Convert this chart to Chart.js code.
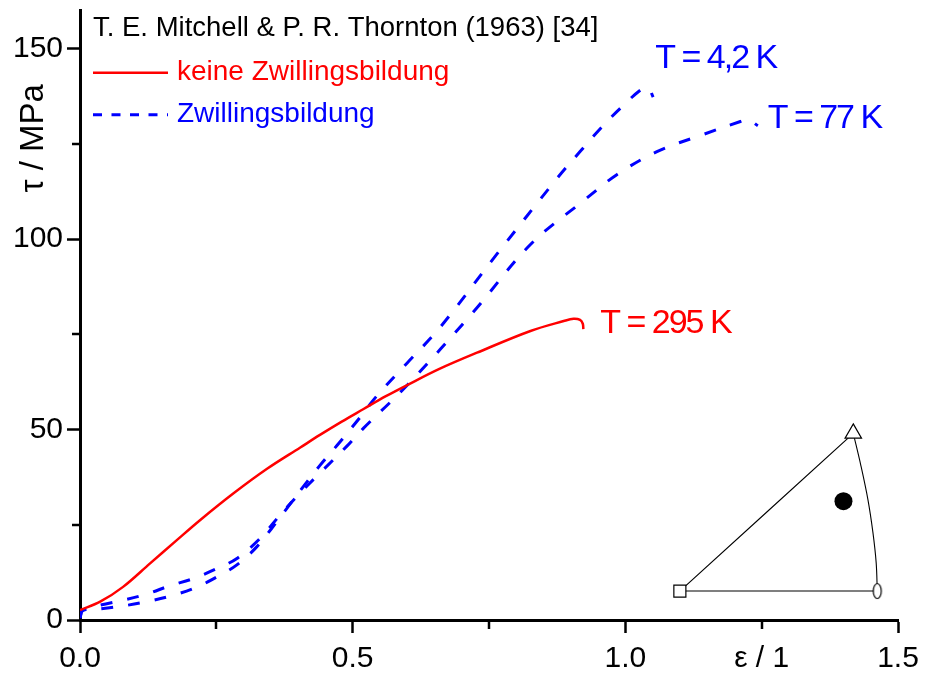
<!DOCTYPE html>
<html><head><meta charset="utf-8">
<script src="https://cdn.jsdelivr.net/npm/chart.js@4"></script>
<style>html,body{margin:0;padding:0;background:#fff}</style>
</head><body>
<canvas id="c" width="928" height="677"></canvas>
<script>
// ---------------- data ----------------
const strain295 = [0, 0.037, 0.079, 0.128, 0.177, 0.22, 0.281, 0.343, 0.404, 0.44, 0.48, 0.52, 0.56, 0.6, 0.66, 0.728, 0.826, 0.887, 0.905, 0.917, 0.922, 0.923];
const tau295    = [2.6, 4.8, 8.7, 14.8, 20.9, 26.2, 33.2, 39.7, 45.3, 48.6, 52.1, 55.4, 58.7, 61.7, 66.0, 70.2, 75.9, 78.5, 79.1, 78.8, 77.8, 76.4];

const strain42 = [0, 0.005, 0.037, 0.079, 0.122, 0.171, 0.214, 0.257, 0.287, 0.324, 0.367, 0.404, 0.44, 0.477, 0.514, 0.544, 0.60, 0.66, 0.764, 0.875, 0.917, 0.954, 0.991, 1.03, 1.042, 1.051];
const tau42    = [0.5, 2.5, 2.9, 3.7, 4.8, 6.5, 8.6, 11.8, 14.4, 19.2, 27.0, 34.0, 40.6, 46.8, 53.3, 58.8, 67.5, 76.8, 96.0, 116.0, 123.0, 129.0, 134.4, 139.4, 139.8, 137.3];

const strain77 = [0, 0.005, 0.037, 0.079, 0.122, 0.165, 0.208, 0.251, 0.287, 0.33, 0.367, 0.40, 0.44, 0.489, 0.52, 0.599, 0.722, 0.826, 0.926, 0.985, 1.058, 1.143, 1.211, 1.225, 1.243];
const tau77    = [0.5, 2.5, 3.9, 5.2, 6.8, 9.0, 10.9, 13.5, 16.1, 21.4, 27.6, 32.8, 38.6, 45.6, 50.4, 61.5, 81.0, 98.6, 110.4, 117.0, 123.0, 127.5, 130.9, 131.4, 129.8];

// stereographic triangle inset (in data units)
const insetSquare   = [1.100, 7.6];
const insetTriangle = [1.418, 49.0];
const insetEllipse  = [1.462, 7.6];
const insetDot      = [1.400, 31.2];
const insetArcStrain = [1.418, 1.432, 1.445, 1.454, 1.460, 1.462];
const insetArcTau    = [49.0, 40.5, 31.5, 23.0, 15.0, 7.6];

const xTickValues = [0, 0.25, 0.5, 0.75, 1.0, 1.25, 1.5];
const xMajorTicks = [0, 0.5, 1.0, 1.5];
const xMinorTicks = [0.25, 0.75];
const xTitleTick  = 1.25;
const yTickValues = [0, 50, 100, 150];
const yMinorTicks = [25, 75, 125];

const curveLabels = [
  {text: 'T = 4,2 K', strain: 1.055, tau: 147.5, color: '#0000ff'},
  {text: 'T = 77 K',  strain: 1.261, tau: 131.7, color: '#0000ff'},
  {text: 'T = 295 K', strain: 0.954, tau: 77.7,  color: '#ff0000'}
];
const sourceText = 'T. E. Mitchell & P. R. Thornton (1963) [34]';
const legendItems = [
  {text: 'keine Zwillingsbildung', color: '#ff0000', dash: []},
  {text: 'Zwillingsbildung', color: '#0000ff', dash: [9, 9.5]}
];
const xTitle = 'ε / 1';
const yTitle = 'τ / MPa';

// ---------------- helpers ----------------
const FONT = "'Liberation Sans', Arial, sans-serif";
const zip = (xs, ys) => xs.map((x, i) => ({x, y: ys[i]}));
const near = (a, b) => Math.abs(a - b) < 1e-6;

function ellipseStyle() {
  const c = document.createElement('canvas');
  c.width = 12; c.height = 20;
  const g = c.getContext('2d');
  g.fillStyle = '#fff'; g.strokeStyle = '#000'; g.lineWidth = 1.2;
  g.beginPath(); g.ellipse(6, 10, 4, 7.5, 0, 0, Math.PI * 2); g.fill(); g.stroke();
  return c;
}

const annot = {
  id: 'annot',
  afterDraw(chart) {
    const {ctx, scales: {x, y}} = chart;
    ctx.save();
    // minor ticks
    ctx.strokeStyle = '#000'; ctx.lineWidth = 2.5;
    for (const v of [...xMinorTicks, xTitleTick]) {
      const px = Math.round(x.getPixelForValue(v));
      ctx.beginPath(); ctx.moveTo(px, y.bottom); ctx.lineTo(px, y.bottom + 9); ctx.stroke();
    }
    for (const v of yMinorTicks) {
      const py = Math.round(y.getPixelForValue(v));
      ctx.beginPath(); ctx.moveTo(x.left, py); ctx.lineTo(x.left - 8, py); ctx.stroke();
    }
    // source text + legend
    const lx = x.left + 13;
    ctx.textBaseline = 'middle'; ctx.textAlign = 'left';
    ctx.fillStyle = '#000'; ctx.font = '27.5px ' + FONT;
    ctx.fillText(sourceText, lx, y.top + 18);
    legendItems.forEach((it, i) => {
      const ly = y.top + 62 + i * 42;
      ctx.strokeStyle = it.color; ctx.lineWidth = i === 0 ? 2.5 : 3;
      ctx.setLineDash(it.dash);
      ctx.beginPath(); ctx.moveTo(lx, ly); ctx.lineTo(lx + 75, ly); ctx.stroke();
      ctx.setLineDash([]);
      ctx.fillStyle = it.color; ctx.font = '28px ' + FONT;
      ctx.fillText(it.text, lx + 84, ly);
    });
    // curve labels
    ctx.font = '34px ' + FONT;
    ctx.letterSpacing = '-2px';
    for (const l of curveLabels) {
      ctx.fillStyle = l.color;
      ctx.fillText(l.text, x.getPixelForValue(l.strain), y.getPixelForValue(l.tau));
    }
    ctx.letterSpacing = '0px';
    // y title
    ctx.fillStyle = '#000'; ctx.font = '33px ' + FONT;
    ctx.translate(34, y.getPixelForValue(126.5));
    ctx.rotate(-Math.PI / 2);
    ctx.textAlign = 'center';
    ctx.fillText(yTitle, 0, 0);
    ctx.restore();
  }
};

const lineDS = (label, xs, ys, color, width, dash, order) => ({
  label, data: zip(xs, ys), showLine: true, borderColor: color, borderWidth: width,
  borderDash: dash, pointRadius: 0, tension: 0.35, fill: false, order
});

new Chart(document.getElementById('c'), {
  type: 'scatter',
  data: {
    datasets: [
      lineDS('295 K', strain295, tau295, '#ff0000', 2.5, [], 3),
      lineDS('4,2 K', strain42, tau42, '#0000ff', 3, [12, 15], 3),
      lineDS('77 K', strain77, tau77, '#0000ff', 3, [12, 15], 3),
      lineDS('inset1', [insetSquare[0], insetTriangle[0]], [insetSquare[1], insetTriangle[1]], '#000', 1.1, [], 5),
      lineDS('inset2', [insetSquare[0], insetEllipse[0]], [insetSquare[1], insetEllipse[1]], '#000', 1.1, [], 5),
      lineDS('inset3', insetArcStrain, insetArcTau, '#000', 1.1, [], 5),
      {label: 'sq', data: [{x: insetSquare[0], y: insetSquare[1]}], pointStyle: 'rect', pointRadius: 8.5,
        pointBackgroundColor: '#fff', pointBorderColor: '#000', pointBorderWidth: 1.2, order: 0},
      {label: 'tri', data: [{x: insetTriangle[0], y: insetTriangle[1]}], pointStyle: 'triangle', pointRadius: 9.5,
        pointBackgroundColor: '#fff', pointBorderColor: '#000', pointBorderWidth: 1.2, order: 0},
      {label: 'ell', data: [{x: insetEllipse[0], y: insetEllipse[1]}], pointStyle: ellipseStyle(), pointRadius: 8, order: 0},
      {label: 'dot', data: [{x: insetDot[0], y: insetDot[1]}], pointStyle: 'circle', pointRadius: 9,
        pointBackgroundColor: '#000', pointBorderColor: '#000', pointBorderWidth: 0, order: 0}
    ]
  },
  options: {
    responsive: false, animation: false, events: [],
    layout: {padding: {top: 9, right: 30, left: 0, bottom: 0}},
    plugins: {legend: {display: false}, tooltip: {enabled: false}},
    scales: {
      x: {
        type: 'linear', min: 0, max: 1.5,
        afterBuildTicks: s => { s.ticks = xTickValues.map(v => ({value: v})); },
        afterFit: s => { s.height = 57; s.paddingLeft = 0; s.paddingRight = 0; },
        border: {display: true, color: '#000', width: 3},
        grid: {drawOnChartArea: false, drawTicks: true, tickLength: 13, tickWidth: 2.5,
          tickColor: c => xMajorTicks.some(v => near(v, c.tick.value)) ? '#000' : 'rgba(0,0,0,0)'},
        ticks: {
          color: '#000', font: {family: FONT, size: 30}, padding: 8, maxRotation: 0, autoSkip: false,
          callback: v => near(v, xTitleTick) ? xTitle : (xMajorTicks.some(m => near(m, v)) ? v.toFixed(1) : '')
        }
      },
      y: {
        type: 'linear', min: 0, max: 160,
        afterBuildTicks: s => { s.ticks = yTickValues.map(v => ({value: v})); },
        afterFit: s => { s.width = 80; s.paddingTop = 0; s.paddingBottom = 0; },
        border: {display: true, color: '#000', width: 3},
        grid: {drawOnChartArea: false, drawTicks: true, tickLength: 13, tickWidth: 2.5, tickColor: '#000'},
        ticks: {color: '#000', font: {family: FONT, size: 30}, padding: 4, autoSkip: false,
          callback: v => String(v)}
      }
    }
  },
  plugins: [annot]
});
</script>
</body></html>
